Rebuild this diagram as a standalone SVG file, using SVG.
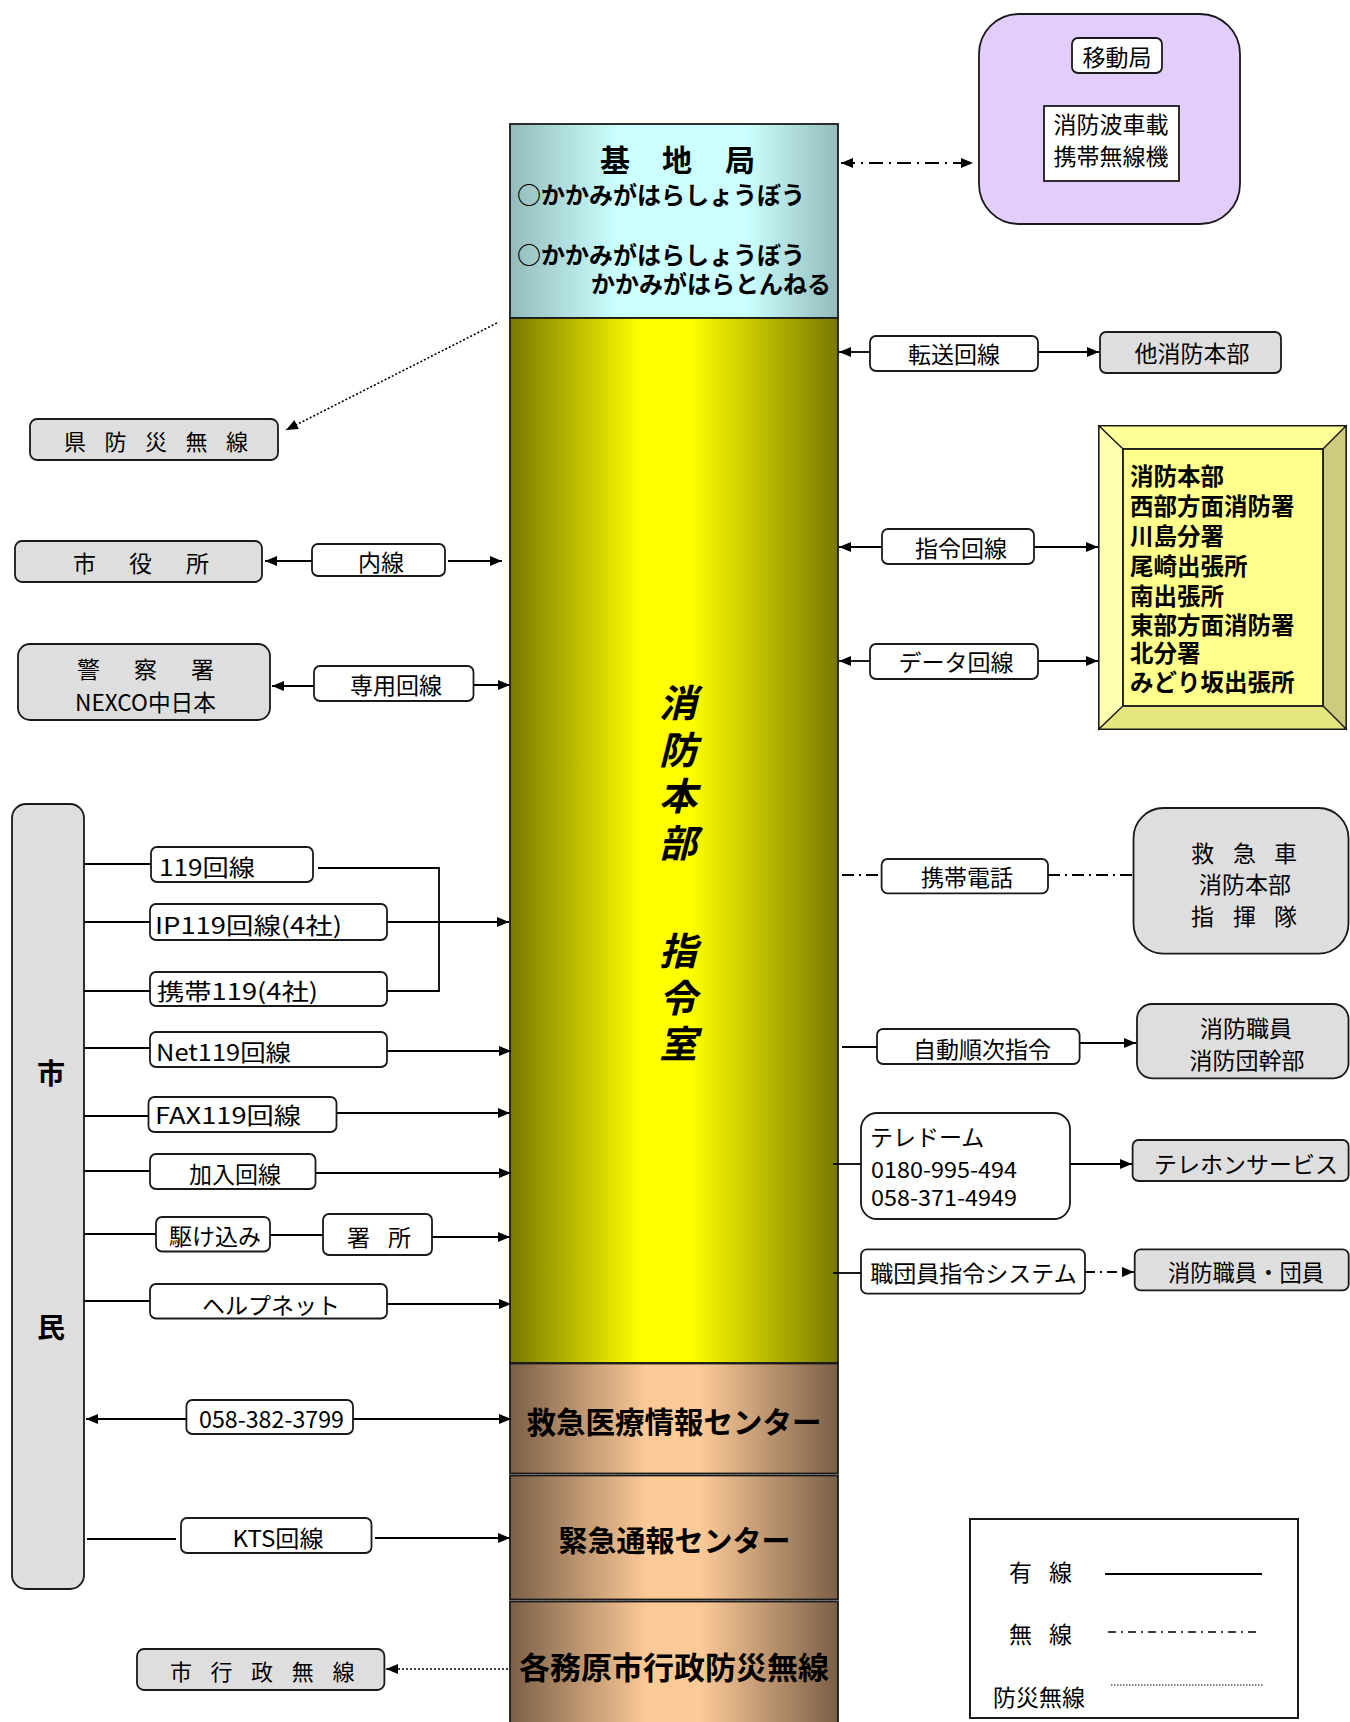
<svg xmlns="http://www.w3.org/2000/svg" width="1350" height="1722" viewBox="0 0 1350 1722">
<style>
text{font-family:"Noto Sans CJK JP","Noto Sans CJK SC",sans-serif;fill:#000;dominant-baseline:central;font-size:23px}
.b{font-weight:bold}
.m{text-anchor:middle}
.box{fill:#fff;stroke:#1a1a1a;stroke-width:1.8}
.gbox{fill:#dedede;stroke:#1a1a1a;stroke-width:1.8}
.col{stroke:#1a1a1a;stroke-width:1.8}
.ln{fill:none;stroke:#000;stroke-width:1.8}
.dd{stroke-dasharray:14 6 2 6}
.dot{stroke-dasharray:2 2;stroke-width:1.6}
.fl{font-weight:bold;font-size:23.5px}
</style>
<defs>
<linearGradient id="gc" x1="0" x2="1" y1="0" y2="0">
<stop offset="0" stop-color="#94bbbb"/><stop offset="0.33" stop-color="#ccffff"/><stop offset="0.72" stop-color="#ccffff"/><stop offset="1" stop-color="#94bbbb"/>
</linearGradient>
<linearGradient id="gy" x1="0" x2="1" y1="0" y2="0">
<stop offset="0" stop-color="#787800"/><stop offset="0.4" stop-color="#ffff00"/><stop offset="0.55" stop-color="#ffff00"/><stop offset="1" stop-color="#787800"/>
</linearGradient>
<linearGradient id="gb" x1="0" x2="1" y1="0" y2="0">
<stop offset="0" stop-color="#7a5f47"/><stop offset="0.42" stop-color="#fcca97"/><stop offset="0.58" stop-color="#fcca97"/><stop offset="1" stop-color="#7a5f47"/>
</linearGradient>
<marker id="ah" viewBox="0 0 12 10" refX="12" refY="5" markerWidth="12" markerHeight="10" markerUnits="userSpaceOnUse" orient="auto-start-reverse">
<path d="M0,0L12,5L0,10z" fill="#000"/>
</marker>
</defs>
<rect width="1350" height="1722" fill="#fff"/>

<g id="column">
<g id="kichikyoku">
<rect x="510" y="124" width="328" height="194" fill="url(#gc)" class="col"/>
<text x="615" y="158" class="b m" style="font-size:30px">基</text>
<text x="677" y="158" class="b m" style="font-size:30px">地</text>
<text x="740" y="158" class="b m" style="font-size:30px">局</text>
<text x="517" y="193" class="b" style="font-size:24px">○かかみがはらしょうぼう</text>
<text x="517" y="253" class="b" style="font-size:24px">○かかみがはらしょうぼう</text>
<text x="591" y="282" class="b" style="font-size:24px">かかみがはらとんねる</text>
</g>
<g id="shireishitsu">
<rect x="510" y="318" width="328" height="1045" fill="url(#gy)" class="col"/>
<text x="678 678 678 678 678 678 678" y="700 747 793 840 948 995 1041" class="b m" style="font-size:38px;font-style:italic">消防本部指令室</text>
</g>
<g id="kyukyu-center">
<rect x="510" y="1363.5" width="328" height="110" fill="url(#gb)" class="col"/>
<text x="674" y="1420" class="b m" style="font-size:29.5px">救急医療情報センター</text>
</g>
<g id="kinkyu-center">
<rect x="510" y="1475.5" width="328" height="124" fill="url(#gb)" class="col"/>
<text x="674.5" y="1539" class="b m" style="font-size:29px">緊急通報センター</text>
</g>
<g id="gyosei-bosai">
<rect x="510" y="1601.5" width="328" height="130" fill="url(#gb)" class="col"/>
<text x="674" y="1665" class="b m" style="font-size:31px">各務原市行政防災無線</text>
</g>
</g>

<g id="idokyoku">
<rect x="979" y="14" width="261" height="210" rx="40" fill="#e3cdfd" stroke="#1a1a1a" stroke-width="1.8"/>
<rect x="1072" y="38" width="90" height="35" rx="6" class="box"/>
<text x="1117" y="56" class="m">移動局</text>
<rect x="1044" y="106" width="135" height="75" class="box"/>
<text x="1111" y="123" class="m">消防波車載</text>
<text x="1111" y="155" class="m">携帯無線機</text>
</g>

<g id="tenso"><rect x="870" y="336" width="168" height="35" rx="6" class="box"/><text x="954" y="353" class="m">転送回線</text></g>
<g id="ta-shobo"><rect x="1100" y="332" width="181" height="41" rx="6" class="gbox"/><text x="1192" y="352" class="m">他消防本部</text></g>
<g id="shirei-kaisen"><rect x="882" y="529" width="152" height="35" rx="6" class="box"/><text x="961" y="547" class="m">指令回線</text></g>
<g id="data-kaisen"><rect x="870" y="644" width="168" height="35" rx="6" class="box"/><text x="956" y="661" class="m">データ回線</text></g>

<g id="shobosho-list">
<path d="M1099,426H1346V729H1099z" fill="#ffff8c" stroke="#1a1a1a" stroke-width="1.8"/>
<path d="M1099,426L1123,449H1323L1346,426z" fill="#ffff99" stroke="#1a1a1a" stroke-width="1.2"/>
<path d="M1099,426L1123,449V706L1099,729z" fill="#ffffb0" stroke="#1a1a1a" stroke-width="1.2"/>
<path d="M1346,426L1323,449V706L1346,729z" fill="#cccc7c" stroke="#1a1a1a" stroke-width="1.2"/>
<path d="M1099,729L1123,706H1323L1346,729z" fill="#e6e680" stroke="#1a1a1a" stroke-width="1.2"/>
<rect x="1123" y="449" width="200" height="257" fill="#ffff8c" stroke="#1a1a1a" stroke-width="1.8"/>
<text x="1130" y="475" class="fl">消防本部</text>
<text x="1130" y="505" class="fl">西部方面消防署</text>
<text x="1130" y="535" class="fl">川島分署</text>
<text x="1130" y="565" class="fl">尾崎出張所</text>
<text x="1130" y="595" class="fl">南出張所</text>
<text x="1130" y="624" class="fl">東部方面消防署</text>
<text x="1130" y="652" class="fl">北分署</text>
<text x="1130" y="681" class="fl">みどり坂出張所</text>
</g>

<g id="ken-bosai"><rect x="30" y="419" width="248" height="41" rx="7" class="gbox"/><text x="64 104.5 145 185.5 226" y="440" style="font-size:22px">県防災無線</text></g>
<g id="shiyakusho"><rect x="15" y="541" width="247" height="41" rx="7" class="gbox"/><text x="73 129 186" y="562">市役所</text></g>
<g id="naisen"><rect x="312" y="544" width="133" height="32" rx="6" class="box"/><text x="381" y="561" class="m">内線</text></g>
<g id="keisatsu"><rect x="18" y="644" width="252" height="76" rx="12" class="gbox"/><text x="77 134 191" y="668">警察署</text><text x="145.5" y="701" class="m" textLength="141" lengthAdjust="spacingAndGlyphs">NEXCO中日本</text></g>
<g id="senyo"><rect x="314" y="666" width="159.5" height="35" rx="6" class="box"/><text x="396" y="684" class="m">専用回線</text></g>

<g id="shimin"><rect x="12" y="804" width="72" height="785" rx="14" class="gbox"/>
<text x="51" y="1072" class="b m" style="font-size:28px">市</text>
<text x="51" y="1326" class="b m" style="font-size:28px">民</text></g>

<g id="k119"><rect x="151" y="847" width="162" height="35" rx="6" class="box"/><text x="159" y="866" textLength="96" lengthAdjust="spacingAndGlyphs">119回線</text></g>
<g id="ip119"><rect x="150" y="904" width="237" height="36" rx="6" class="box"/><text x="155" y="924" textLength="187" lengthAdjust="spacingAndGlyphs">IP119回線(4社)</text></g>
<g id="keitai119"><rect x="150" y="972" width="237" height="34" rx="6" class="box"/><text x="157" y="990" textLength="161" lengthAdjust="spacingAndGlyphs">携帯119(4社)</text></g>
<g id="net119"><rect x="150" y="1032" width="237" height="35" rx="6" class="box"/><text x="156" y="1051" textLength="135" lengthAdjust="spacingAndGlyphs">Net119回線</text></g>
<g id="fax119"><rect x="148.5" y="1097" width="188" height="35" rx="6" class="box"/><text x="155" y="1114" textLength="146" lengthAdjust="spacingAndGlyphs">FAX119回線</text></g>
<g id="kanyu"><rect x="150" y="1154" width="165.5" height="35" rx="6" class="box"/><text x="235" y="1173" class="m">加入回線</text></g>
<g id="kakekomi"><rect x="156" y="1217" width="114" height="34.5" rx="6" class="box"/><text x="215" y="1235" class="m">駆け込み</text></g>
<g id="shosho"><rect x="323" y="1214" width="109" height="41" rx="6" class="box"/><text x="347 388" y="1236">署所</text></g>
<g id="helpnet"><rect x="150" y="1284" width="237" height="34.5" rx="6" class="box"/><text x="271" y="1304" class="m">ヘルプネット</text></g>
<g id="tel-kyukyu"><rect x="186.4" y="1400" width="166.6" height="34" rx="6" class="box"/><text x="271.5" y="1418" class="m" textLength="145" lengthAdjust="spacingAndGlyphs">058-382-3799</text></g>
<g id="kts"><rect x="181" y="1518" width="190.5" height="35" rx="6" class="box"/><text x="278" y="1537" class="m" textLength="91" lengthAdjust="spacingAndGlyphs">KTS回線</text></g>
<g id="shi-gyosei"><rect x="137" y="1649" width="247.4" height="41" rx="7" class="gbox"/><text x="170 210.6 251 291.8 332.6" y="1670" style="font-size:22px">市行政無線</text></g>

<g id="keitai-denwa"><rect x="881.6" y="859" width="166.4" height="34.3" rx="6" class="box"/><text x="967" y="876" class="m">携帯電話</text></g>
<g id="kyukyusha"><rect x="1133.5" y="808" width="215" height="145.6" rx="30" class="gbox"/>
<text x="1191 1233 1274" y="852">救急車</text>
<text x="1245" y="883" class="m">消防本部</text>
<text x="1191 1233 1274" y="915">指揮隊</text></g>
<g id="jido-junji"><rect x="877" y="1029" width="202.6" height="35" rx="6" class="box"/><text x="982" y="1048" class="m">自動順次指令</text></g>
<g id="shokuin-kanbu"><rect x="1137" y="1004" width="211.5" height="74.3" rx="15" class="gbox"/>
<text x="1246" y="1027" class="m">消防職員</text>
<text x="1247" y="1059" class="m">消防団幹部</text></g>
<g id="teledome"><rect x="861" y="1113" width="209" height="106" rx="16" class="box"/>
<text x="870" y="1136">テレドーム</text>
<text x="871" y="1168" textLength="146" lengthAdjust="spacingAndGlyphs" style="font-size:22px">0180-995-494</text>
<text x="871" y="1196" textLength="146" lengthAdjust="spacingAndGlyphs" style="font-size:22px">058-371-4949</text></g>
<g id="telephone-service"><rect x="1132.6" y="1140" width="216" height="41" rx="6" class="gbox"/><text x="1246" y="1163" class="m">テレホンサービス</text></g>
<g id="shokudan-system"><rect x="861" y="1249.3" width="224" height="44.4" rx="6" class="box"/><text x="973.5" y="1272" class="m">職団員指令システム</text></g>
<g id="shokuin-danin"><rect x="1134.7" y="1249.3" width="214" height="41" rx="6" class="gbox"/><text x="1246" y="1271" class="m" textLength="156" lengthAdjust="spacingAndGlyphs">消防職員・団員</text></g>

<g id="legend">
<rect x="970" y="1519" width="328" height="199" fill="#fff" stroke="#1a1a1a" stroke-width="2"/>
<text x="1009 1049" y="1571">有線</text>
<text x="1009 1049" y="1633">無線</text>
<text x="993" y="1696">防災無線</text>
<line x1="1105" y1="1574" x2="1262" y2="1574" class="ln"/>
<line x1="1108" y1="1632" x2="1261" y2="1632" class="ln" style="stroke-dasharray:8 5 2 5;stroke-width:1.5"/>
<line x1="1111" y1="1685" x2="1264" y2="1685" class="ln" style="stroke-dasharray:1.5 1.5;stroke-width:1.2"/>
</g>

<g id="connectors">
<line x1="841" y1="163" x2="973" y2="163" class="ln dd" marker-start="url(#ah)" marker-end="url(#ah)"/>
<line x1="497" y1="323" x2="286" y2="430" class="ln dot" marker-end="url(#ah)"/>
<line x1="870" y1="352" x2="839" y2="352" class="ln" marker-end="url(#ah)"/>
<line x1="1038" y1="352" x2="1099" y2="352" class="ln" marker-end="url(#ah)"/>
<line x1="882" y1="547" x2="839" y2="547" class="ln" marker-end="url(#ah)"/>
<line x1="1034" y1="547" x2="1098" y2="547" class="ln" marker-end="url(#ah)"/>
<line x1="870" y1="661" x2="839" y2="661" class="ln" marker-end="url(#ah)"/>
<line x1="1038" y1="661" x2="1098" y2="661" class="ln" marker-end="url(#ah)"/>
<line x1="312" y1="561" x2="265" y2="561" class="ln" marker-end="url(#ah)"/>
<line x1="448" y1="561" x2="502" y2="561" class="ln" marker-end="url(#ah)"/>
<line x1="314" y1="686" x2="272" y2="686" class="ln" marker-end="url(#ah)"/>
<line x1="474" y1="685" x2="510" y2="685" class="ln" marker-end="url(#ah)"/>
<line x1="84" y1="864" x2="151" y2="864" class="ln"/>
<polyline points="318,868 439,868 439,991 387,991" class="ln"/>
<line x1="84" y1="922" x2="150" y2="922" class="ln"/>
<line x1="387" y1="922" x2="509" y2="922" class="ln" marker-end="url(#ah)"/>
<line x1="84" y1="991" x2="150" y2="991" class="ln"/>
<line x1="84" y1="1048" x2="150" y2="1048" class="ln"/>
<line x1="387" y1="1051" x2="511" y2="1051" class="ln" marker-end="url(#ah)"/>
<line x1="84" y1="1116" x2="148.5" y2="1116" class="ln"/>
<line x1="337" y1="1113" x2="510" y2="1113" class="ln" marker-end="url(#ah)"/>
<line x1="84" y1="1171" x2="150" y2="1171" class="ln"/>
<line x1="316" y1="1173" x2="511" y2="1173" class="ln" marker-end="url(#ah)"/>
<line x1="84" y1="1234" x2="156" y2="1234" class="ln"/>
<line x1="270" y1="1235" x2="323" y2="1235" class="ln"/>
<line x1="432" y1="1237" x2="510" y2="1237" class="ln" marker-end="url(#ah)"/>
<line x1="84" y1="1301" x2="150" y2="1301" class="ln"/>
<line x1="387" y1="1304" x2="511" y2="1304" class="ln" marker-end="url(#ah)"/>
<line x1="186" y1="1419" x2="86" y2="1419" class="ln" marker-end="url(#ah)"/>
<line x1="353" y1="1419" x2="511" y2="1419" class="ln" marker-end="url(#ah)"/>
<line x1="87" y1="1539" x2="176" y2="1539" class="ln"/>
<line x1="375" y1="1538" x2="510" y2="1538" class="ln" marker-end="url(#ah)"/>
<line x1="508" y1="1669" x2="386" y2="1669" class="ln dot" marker-end="url(#ah)"/>
<line x1="842" y1="875" x2="881.6" y2="875" class="ln" style="stroke-dasharray:12 5 2 5"/>
<line x1="1048" y1="875" x2="1133.5" y2="875" class="ln" style="stroke-dasharray:12 5 2 5"/>
<line x1="842" y1="1047" x2="877" y2="1047" class="ln"/>
<line x1="1080" y1="1043" x2="1136" y2="1043" class="ln" marker-end="url(#ah)"/>
<line x1="833" y1="1164" x2="861" y2="1164" class="ln"/>
<line x1="1070" y1="1164" x2="1132" y2="1164" class="ln" marker-end="url(#ah)"/>
<line x1="833" y1="1273" x2="861" y2="1273" class="ln"/>
<line x1="1085" y1="1272" x2="1134" y2="1272" class="ln" style="stroke-dasharray:10 5 2 5" marker-end="url(#ah)"/>
</g>
</svg>
